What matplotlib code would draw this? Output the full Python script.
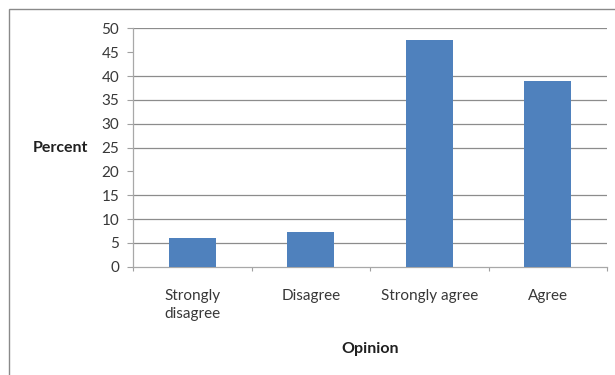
import matplotlib.pyplot as plt
from matplotlib.patches import Rectangle

plt.rcParams['font.family'] = ['Lato', 'DejaVu Sans']

opinions = ['Strongly\ndisagree', 'Disagree', 'Strongly agree', 'Agree']
percent = [6.1, 7.3, 47.6, 38.9]
y_ticks = [0, 5, 10, 15, 20, 25, 30, 35, 40, 45, 50]

fig = plt.figure(figsize=(6.15, 3.75), dpi=100)
ax = fig.add_axes([0.2163, 0.2888, 0.7707, 0.6356])

# outer chart border (runs off right and bottom edges like the source)
fig.patches.append(Rectangle((9 / 615, -0.05), 1.1, 1 - 9 / 375 + 0.05,
                             transform=fig.transFigure, fill=False,
                             edgecolor='#8a8a8a', linewidth=1.0))

xpos = list(range(len(opinions)))
ax.bar(xpos, percent, width=0.4, color='#4F81BD', zorder=3)

ax.set_xlim(-0.5, len(opinions) - 0.5)
ax.set_ylim(0, 50)
ax.set_yticks(y_ticks)
ax.set_yticklabels([str(v) for v in y_ticks])
ax.set_xticks(xpos)
ax.set_xticklabels(opinions, linespacing=1.4)
ax.set_xticks([i - 0.5 for i in range(len(opinions) + 1)], minor=True)

ax.tick_params(axis='y', length=4, width=0.8, color='#a0a0a0', pad=6,
               labelsize=11, labelcolor='#383838')
ax.tick_params(axis='x', which='major', length=0, pad=16,
               labelsize=11, labelcolor='#383838')
ax.tick_params(axis='x', which='minor', length=3, width=0.8, color='#a0a0a0')

# gridlines (the source image lost the 20 and 45 lines)
for v in y_ticks[1:]:
    if v in (20, 45):
        continue
    ax.axhline(v, color='#8c8c8c', linewidth=0.9, zorder=1)

for side in ('top', 'right'):
    ax.spines[side].set_visible(False)
for side in ('left', 'bottom'):
    ax.spines[side].set_color('#a8a8a8')
    ax.spines[side].set_linewidth(0.9)

ax.set_ylabel('Percent', rotation=0, ha='right', va='center',
              fontsize=11.5, fontweight='bold', color='#202020')
ax.yaxis.set_label_coords(-0.095, 0.5)
ax.set_xlabel('Opinion', ha='center', va='center',
              fontsize=11.5, fontweight='bold', color='#202020')
ax.xaxis.set_label_coords(0.5, -0.345)

fig.savefig('out.png', dpi=100)
